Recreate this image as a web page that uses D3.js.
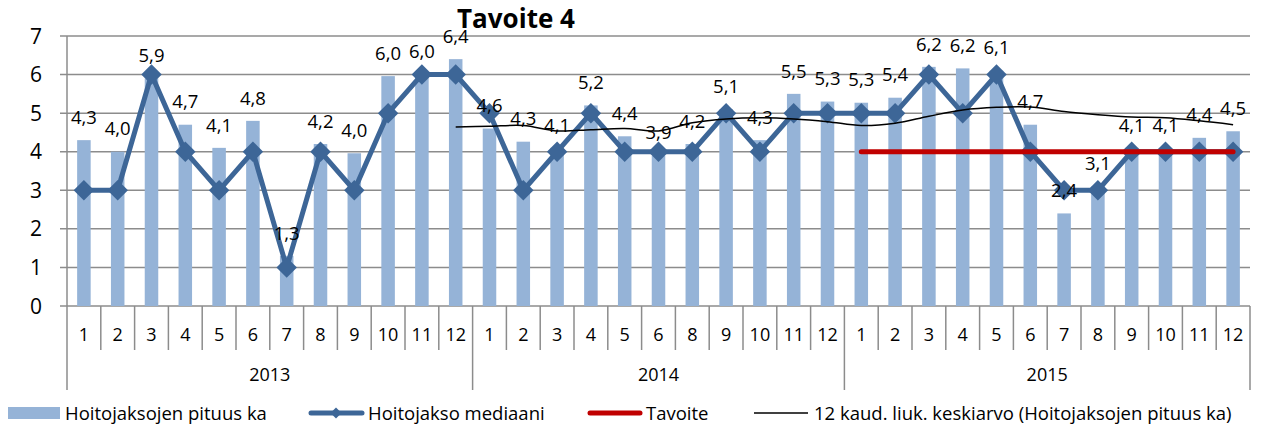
<!DOCTYPE html>
<html>
<head>
<meta charset="utf-8">
<script src="https://cdn.jsdelivr.net/npm/d3@7"></script>
<style>
  body { margin: 0; background: #fff; }
  svg { display: block; font-family: "Open Sans", sans-serif; }
</style>
</head>
<body>
<svg id="chart"></svg>
<script>
// --- data ---
var years = ["2013", "2014", "2015"];
var months2013 = [1, 2, 3, 4, 5, 6, 7, 8, 9, 10, 11, 12];
var months2014 = [1, 2, 3, 4, 5, 6, 8, 9, 10, 11, 12];   // 7 is missing in the source
var months2015 = [1, 2, 3, 4, 5, 6, 7, 8, 9, 10, 11, 12];

var pituusKa = [4.3, 4.0, 5.9, 4.7, 4.1, 4.8, 1.3, 4.2, 3.96, 5.96, 6.0, 6.4,
                4.6, 4.26, 4.1, 5.2, 4.4, 3.9, 4.2, 5.1, 4.3, 5.5, 5.3,
                5.27, 5.4, 6.2, 6.16, 6.1, 4.7, 2.4, 3.1, 4.1, 4.1, 4.36, 4.53];
var mediaani = [3, 3, 6, 4, 3, 4, 1, 4, 3, 5, 6, 6,
                5, 3, 4, 5, 4, 4, 4, 5, 4, 5, 5,
                5, 5, 6, 5, 6, 4, 3, 3, 4, 4, 4, 4];
var tavoite = [null, null, null, null, null, null, null, null, null, null, null, null,
               null, null, null, null, null, null, null, null, null, null, null,
               4, 4, 4, 4, 4, 4, 4, 4, 4, 4, 4, 4];
var liukKa = [null, null, null, null, null, null, null, null, null, null, null, 4.64,
              4.66, 4.68, 4.54, 4.57, 4.60, 4.54, 4.75, 4.85, 4.88, 4.85, 4.78,
              4.68, 4.74, 4.92, 5.08, 5.15, 5.16, 5.04, 4.96, 4.90, 4.88, 4.80, 4.70];
var yTicks = [0, 1, 2, 3, 4, 5, 6, 7];

var legendNames = ["Hoitojaksojen pituus ka", "Hoitojakso mediaani", "Tavoite",
                   "12 kaud. liuk. keskiarvo (Hoitojaksojen pituus ka)"];

// build the category table
var cats = [];
[months2013, months2014, months2015].forEach(function(ms, yi) {
    ms.forEach(function(m) { cats.push({year: years[yi], month: m}); });
});
cats.forEach(function(c, i) {
    c.key = c.year + "-" + c.month;
    c.bar = pituusKa[i];
    c.med = mediaani[i];
    c.goal = tavoite[i];
    c.avg = liukKa[i];
});

var width = 1269,
    height = 432,
    margin = {top: 36, left: 67, right: 19, bottom: 126};

var chartWidth = width - margin.left - margin.right,
    chartHeight = height - margin.top - margin.bottom;

var svg = d3.select("#chart")
    .attr("width", width)
    .attr("height", height);

var xScale = d3.scaleBand()
    .domain(cats.map(function(d) { return d.key; }))
    .range([0, chartWidth])
    .paddingInner(0.6)
    .paddingOuter(0.3);

var step = xScale.step();
function cx(d) { return xScale(d.key) + xScale.bandwidth() / 2; }

var yScale = d3.scaleLinear()
    .domain([0, 7])
    .range([chartHeight, 0]);

var g = svg.append("g")
    .attr("transform", "translate(" + margin.left + "," + margin.top + ")");

var gridColor = "#8c8c8c";

// horizontal grid lines
g.selectAll("line.grid")
    .data(yTicks)
    .enter()
    .append("line")
    .attr("class", "grid")
    .attr("x1", -7)
    .attr("x2", chartWidth)
    .attr("y1", function(d) { return yScale(d); })
    .attr("y2", function(d) { return yScale(d); })
    .style("stroke", gridColor)
    .style("stroke-width", "1.5px");

// y axis line
g.append("line")
    .attr("x1", 0).attr("x2", 0)
    .attr("y1", 0).attr("y2", chartHeight)
    .style("stroke", gridColor)
    .style("stroke-width", "1.5px");

// y tick labels
g.selectAll("text.ytick")
    .data(yTicks)
    .enter()
    .append("text")
    .attr("class", "ytick")
    .attr("x", -25)
    .attr("y", function(d) { return yScale(d); })
    .attr("dy", "0.36em")
    .attr("text-anchor", "end")
    .style("font-size", "21px")
    .text(function(d) { return d; });

// x axis: category ticks, month labels, year separators
var catTickLen = 44,
    yearTickLen = 84;

g.selectAll("line.cattick")
    .data(d3.range(cats.length + 1))
    .enter()
    .append("line")
    .attr("class", "cattick")
    .attr("x1", function(i) { return i * step; })
    .attr("x2", function(i) { return i * step; })
    .attr("y1", chartHeight)
    .attr("y2", function(i) {
        var isYear = i === 0 || i === cats.length || cats[i].year !== cats[i - 1].year;
        return chartHeight + (isYear ? yearTickLen : catTickLen);
    })
    .style("stroke", gridColor)
    .style("stroke-width", "1.5px");

g.selectAll("text.month")
    .data(cats)
    .enter()
    .append("text")
    .attr("class", "month")
    .attr("x", cx)
    .attr("y", chartHeight + 29)
    .attr("dy", "0.36em")
    .attr("text-anchor", "middle")
    .style("font-size", "18px")
    .text(function(d) { return d.month; });

var yearSpans = years.map(function(y) {
    var sub = cats.filter(function(c) { return c.year === y; });
    return {year: y, x0: xScale(sub[0].key) - xScale.step() * xScale.paddingInner() / 2,
            x1: xScale(sub[sub.length - 1].key) + xScale.bandwidth() + xScale.step() * xScale.paddingInner() / 2};
});

g.selectAll("text.year")
    .data(yearSpans)
    .enter()
    .append("text")
    .attr("class", "year")
    .attr("x", function(d) { return (d.x0 + d.x1) / 2; })
    .attr("y", chartHeight + 69)
    .attr("dy", "0.36em")
    .attr("text-anchor", "middle")
    .style("font-size", "18px")
    .text(function(d) { return d.year; });

// bars
var barColor = "#95b3d7",
    medColor = "#3d6697",
    goalColor = "#c00000";

g.selectAll("rect.bar")
    .data(cats)
    .enter()
    .append("rect")
    .attr("class", "bar")
    .attr("x", function(d) { return xScale(d.key); })
    .attr("width", xScale.bandwidth())
    .attr("y", function(d) { return yScale(d.bar); })
    .attr("height", function(d) { return chartHeight - yScale(d.bar); })
    .style("fill", barColor);

// median line + diamonds
var medLine = d3.line()
    .x(cx)
    .y(function(d) { return yScale(d.med); });

g.append("path")
    .datum(cats)
    .attr("d", medLine)
    .style("fill", "none")
    .style("stroke", medColor)
    .style("stroke-width", "5px")
    .style("stroke-linejoin", "round");

var diamond = d3.symbol().type(d3.symbolSquare).size(210);

g.selectAll("path.marker")
    .data(cats)
    .enter()
    .append("path")
    .attr("class", "marker")
    .attr("d", diamond)
    .attr("transform", function(d) {
        return "translate(" + cx(d) + "," + yScale(d.med) + ") rotate(45)";
    })
    .style("fill", medColor);

// target line
var goalLine = d3.line()
    .defined(function(d) { return d.goal != null; })
    .x(cx)
    .y(function(d) { return yScale(d.goal); });

g.append("path")
    .datum(cats)
    .attr("d", goalLine)
    .style("fill", "none")
    .style("stroke", goalColor)
    .style("stroke-width", "5px")
    .style("stroke-linecap", "round");

// moving average
var avgLine = d3.line()
    .defined(function(d) { return d.avg != null; })
    .curve(d3.curveCatmullRom.alpha(0.5))
    .x(cx)
    .y(function(d) { return yScale(d.avg); });

g.append("path")
    .datum(cats)
    .attr("d", avgLine)
    .style("fill", "none")
    .style("stroke", "#000")
    .style("stroke-width", "1.5px");

// data labels for the bars
g.selectAll("text.lbl")
    .data(cats)
    .enter()
    .append("text")
    .attr("class", "lbl")
    .attr("x", cx)
    .attr("y", function(d) { return yScale(d.bar) - 23; })
    .attr("dy", "0.36em")
    .attr("text-anchor", "middle")
    .style("font-size", "18.5px")
    .text(function(d) { return d.bar.toFixed(1).replace(".", ","); });

// title
svg.append("text")
    .attr("x", 516)
    .attr("y", 19)
    .attr("dy", "0.36em")
    .attr("text-anchor", "middle")
    .style("font-size", "26px")
    .style("font-weight", "bold")
    .text("Tavoite 4");

// legend
var legY = 413;
var leg = svg.append("g").attr("class", "legend");

leg.append("rect")
    .attr("x", 8).attr("y", legY - 6)
    .attr("width", 52).attr("height", 12)
    .style("fill", barColor);
leg.append("text")
    .attr("x", 65).attr("y", legY).attr("dy", "0.36em")
    .style("font-size", "18.5px")
    .text(legendNames[0]);

leg.append("line")
    .attr("x1", 311).attr("x2", 362)
    .attr("y1", legY).attr("y2", legY)
    .style("stroke", medColor).style("stroke-width", "5px")
    .style("stroke-linecap", "round");
leg.append("path")
    .attr("d", d3.symbol().type(d3.symbolSquare).size(60))
    .attr("transform", "translate(336," + legY + ") rotate(45)")
    .style("fill", medColor);
leg.append("text")
    .attr("x", 368).attr("y", legY).attr("dy", "0.36em")
    .style("font-size", "18.5px")
    .text(legendNames[1]);

leg.append("line")
    .attr("x1", 590).attr("x2", 640)
    .attr("y1", legY).attr("y2", legY)
    .style("stroke", goalColor).style("stroke-width", "5px")
    .style("stroke-linecap", "round");
leg.append("text")
    .attr("x", 646).attr("y", legY).attr("dy", "0.36em")
    .style("font-size", "18.5px")
    .text(legendNames[2]);

leg.append("line")
    .attr("x1", 754).attr("x2", 808)
    .attr("y1", legY).attr("y2", legY)
    .style("stroke", "#000").style("stroke-width", "1.5px");
leg.append("text")
    .attr("x", 814).attr("y", legY).attr("dy", "0.36em")
    .style("font-size", "18.5px")
    .text(legendNames[3]);
</script>
</body>
</html>
